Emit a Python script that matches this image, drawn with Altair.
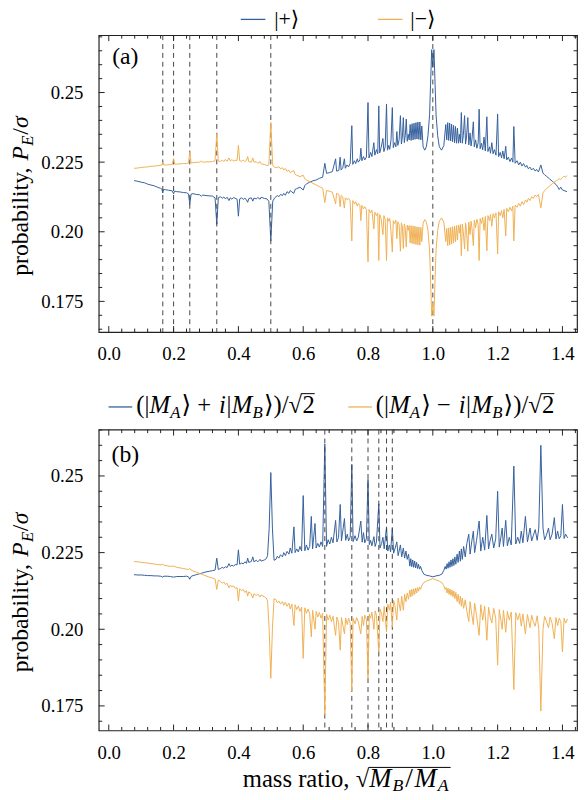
import altair as alt
import pandas as pd

# ---------------- data ----------------
A_PLUS = [
(0.078,0.2184),(0.09,0.2181),(0.10,0.2178),(0.11,0.2176),(0.12,0.2171),(0.13,0.2168),(0.14,0.2165),(0.15,0.2160),(0.16,0.2156),
(0.164,0.2153),(0.1667,0.2139),(0.169,0.2152),(0.175,0.2151),(0.185,0.2149),(0.196,0.2147),(0.2,0.2136),(0.203,0.2146),
(0.21,0.2144),(0.22,0.2143),(0.23,0.2141),(0.24,0.2140),(0.246,0.2136),(0.25,0.2098),(0.254,0.2135),
(0.26,0.2137),(0.27,0.2134),(0.28,0.2133),(0.286,0.2128),(0.29,0.2132),(0.3,0.2130),(0.31,0.2129),(0.32,0.2128),(0.328,0.2122),(0.3333,0.2027),(0.338,0.2122),
(0.345,0.2126),(0.35,0.2120),(0.355,0.2125),(0.36,0.2118),(0.365,0.2124),(0.371,0.2112),(0.375,0.2122),(0.38,0.2117),(0.385,0.2123),(0.39,0.2120),(0.396,0.2117),(0.4,0.2056),(0.404,0.2118),
(0.41,0.2122),(0.415,0.2116),(0.42,0.2121),(0.425,0.2114),(0.4286,0.2106),(0.432,0.2119),(0.44,0.2122),(0.4444,0.2110),(0.448,0.2121),(0.455,0.2118),(0.46,0.2123),(0.467,0.2117),(0.47,0.2124),(0.48,0.2120),(0.488,0.2118),(0.494,0.2110),(0.5,0.1967),(0.506,0.2110),(0.512,0.2122),
(0.52,0.2130),(0.525,0.2126),(0.53,0.2134),(0.536,0.2130),(0.54,0.2138),(0.545,0.2131),(0.55,0.2144),(0.556,0.2138),(0.56,0.2148),(0.565,0.2143),(0.571,0.2138),(0.575,0.2152),(0.58,0.2155),(0.59,0.2160),(0.6,0.2150),(0.605,0.2166),(0.61,0.2172),(0.62,0.2178),(0.63,0.2183),(0.64,0.2186),(0.65,0.2192),(0.66,0.2196),(0.6667,0.2246),(0.672,0.2210),(0.68,0.2212),
(0.69,0.2216),(0.7,0.2262),(0.703,0.2218),(0.71,0.2220),(0.714,0.2268),(0.717,0.2222),(0.722,0.2230),(0.727,0.2262),(0.73,0.2228),(0.735,0.2240),(0.74,0.2233),(0.745,0.2246),(0.75,0.2381),(0.753,0.2242),(0.758,0.2255),(0.762,0.2245),(0.767,0.2262),(0.77,0.2250),(0.775,0.2258),(0.778,0.2300),(0.781,0.2255),(0.786,0.2270),(0.79,0.2258),(0.795,0.2268),(0.8,0.2464),(0.803,0.2265),(0.808,0.2285),(0.812,0.2270),(0.818,0.2320),(0.821,0.2275),(0.826,0.2295),(0.83,0.2280),(0.8333,0.2452),(0.836,0.2283),(0.84,0.2300),(0.846,0.2335),(0.849,0.2288),(0.853,0.2305),(0.8571,0.2459),(0.86,0.2293),(0.864,0.2310),(0.867,0.2296),(0.871,0.2330),(0.875,0.2446),(0.878,0.2302),(0.882,0.2320),(0.886,0.2305),(0.889,0.2360),(0.892,0.2310),(0.896,0.2330),(0.9,0.2417),(0.903,0.2315),(0.906,0.2340),(0.909,0.2410),(0.912,0.2320),(0.915,0.2345),(0.918,0.2405),(0.921,0.2325),(0.924,0.2350),(0.927,0.2330),(0.93,0.2385),
(0.933,0.2328),(0.936,0.2388),(0.939,0.2330),(0.942,0.2390),(0.945,0.2332),(0.948,0.2392),(0.951,0.2333),(0.954,0.2394),(0.957,0.2332),(0.96,0.2394),(0.963,0.2330),(0.966,0.2380),
(0.97,0.2305),(0.975,0.2293),(0.98,0.2305),(0.985,0.2345),(0.99,0.2420),(0.993,0.2530),(0.9965,0.2654),(1.0,0.2590),(1.0035,0.2654),(1.007,0.2530),(1.01,0.2420),(1.015,0.2345),(1.02,0.2305),(1.027,0.2293),(1.034,0.2310),(1.04,0.2385),
(1.043,0.2330),(1.046,0.2392),(1.049,0.2328),(1.052,0.2390),(1.055,0.2326),(1.058,0.2386),(1.061,0.2324),(1.064,0.2382),(1.067,0.2320),(1.07,0.2378),(1.073,0.2318),(1.076,0.2372),(1.079,0.2318),(1.082,0.2350),(1.085,0.2320),(1.088,0.2428),(1.091,0.2318),(1.094,0.2345),(1.098,0.2417),(1.101,0.2315),(1.104,0.2340),(1.108,0.2410),(1.111,0.2312),(1.115,0.2355),(1.118,0.2308),(1.121,0.2335),(1.125,0.2395),(1.128,0.2305),(1.132,0.2330),(1.136,0.2300),(1.14,0.2320),(1.1429,0.2440),(1.146,0.2298),(1.15,0.2318),(1.154,0.2294),(1.158,0.2340),(1.162,0.2290),(1.1667,0.2413),(1.17,0.2288),(1.175,0.2305),(1.178,0.2282),(1.182,0.2320),(1.186,0.2280),(1.19,0.2295),(1.195,0.2275),(1.2,0.2423),(1.203,0.2270),(1.208,0.2285),(1.212,0.2265),(1.216,0.2290),(1.22,0.2262),(1.225,0.2307),(1.228,0.2258),(1.233,0.2268),(1.238,0.2252),(1.243,0.2265),(1.247,0.2250),(1.25,0.2378),(1.254,0.2246),(1.26,0.2255),(1.265,0.2240),(1.27,0.2250),(1.275,0.2236),(1.28,0.2245),(1.286,0.2232),(1.29,0.2238),(1.295,0.2226),(1.3,0.2232),(1.305,0.2222),(1.31,0.2228),(1.316,0.2218),(1.32,0.2224),(1.326,0.2215),(1.3333,0.2240),(1.34,0.2210),(1.345,0.2205),(1.35,0.2200),(1.36,0.2190),(1.37,0.2180),(1.38,0.2170),(1.385,0.2162),(1.39,0.2152),(1.395,0.2160),(1.4,0.2150),(1.405,0.2148),(1.414,0.2144),
]

A_MINUS = [
(0.078,0.2228),(0.09,0.2229),(0.1,0.2231),(0.11,0.2232),(0.12,0.2233),(0.13,0.2235),(0.14,0.2236),(0.15,0.2237),(0.16,0.2239),(0.164,0.2239),(0.1667,0.2250),(0.169,0.2240),(0.18,0.2240),(0.19,0.2241),(0.196,0.2242),(0.2,0.2263),(0.203,0.2243),(0.21,0.2243),(0.22,0.2244),(0.23,0.2245),(0.24,0.2245),(0.246,0.2247),(0.25,0.2287),(0.254,0.2247),(0.26,0.2248),(0.27,0.2249),(0.28,0.2250),(0.286,0.2254),(0.29,0.2250),(0.3,0.2251),(0.31,0.2251),(0.32,0.2252),(0.328,0.2255),(0.3333,0.2352),(0.338,0.2254),(0.345,0.2252),(0.35,0.2258),(0.355,0.2252),(0.36,0.2260),(0.365,0.2253),(0.371,0.2265),(0.375,0.2254),(0.38,0.2259),(0.385,0.2254),(0.39,0.2257),(0.396,0.2256),(0.4,0.2310),(0.404,0.2255),(0.41,0.2253),(0.415,0.2258),(0.42,0.2252),(0.425,0.2257),(0.4286,0.2270),(0.432,0.2252),(0.44,0.2250),(0.4444,0.2265),(0.448,0.2250),(0.455,0.2252),(0.46,0.2246),(0.467,0.2252),(0.47,0.2244),(0.48,0.2242),(0.488,0.2238),(0.494,0.2240),(0.5,0.2393),(0.506,0.2238),(0.512,0.2232),(0.52,0.2230),(0.525,0.2234),(0.53,0.2226),(0.536,0.2230),(0.54,0.2222),(0.545,0.2227),(0.55,0.2217),(0.556,0.2221),(0.56,0.2212),(0.565,0.2216),(0.571,0.2220),(0.575,0.2206),(0.58,0.2203),(0.59,0.2198),(0.6,0.2203),(0.605,0.2190),(0.61,0.2186),(0.62,0.2180),(0.63,0.2174),(0.64,0.2168),(0.65,0.2162),(0.66,0.2156),(0.6667,0.2105),(0.672,0.2148),(0.68,0.2146),(0.69,0.2142),(0.7,0.2100),(0.703,0.2138),(0.71,0.2134),(0.714,0.2090),(0.717,0.2130),(0.722,0.2125),(0.727,0.2085),(0.73,0.2122),(0.735,0.2115),(0.74,0.2120),(0.745,0.2110),(0.75,0.1967),(0.753,0.2112),(0.758,0.2100),(0.762,0.2108),(0.767,0.2092),(0.77,0.2102),(0.775,0.2094),(0.778,0.2040),(0.781,0.2095),(0.786,0.2082),(0.79,0.2090),(0.795,0.2080),(0.8,0.1892),(0.803,0.2080),(0.808,0.2068),(0.812,0.2078),(0.818,0.2010),(0.821,0.2070),(0.826,0.2058),(0.83,0.2068),(0.8333,0.1897),(0.836,0.2062),(0.84,0.2050),(0.846,0.1990),(0.849,0.2058),(0.853,0.2044),(0.8571,0.1897),(0.86,0.2050),(0.864,0.2038),(0.867,0.2048),(0.871,0.2000),(0.875,0.1927),(0.878,0.2040),(0.882,0.2030),(0.886,0.2042),(0.889,0.1975),(0.892,0.2036),(0.896,0.2025),(0.9,0.1930),(0.903,0.2032),(0.906,0.2018),(0.909,0.1940),(0.912,0.2028),(0.915,0.2012),(0.918,0.1945),(0.921,0.2024),(0.924,0.2005),(0.927,0.2022),(0.93,0.1960),
(0.933,0.2022),(0.936,0.1958),(0.939,0.2021),(0.942,0.1956),(0.945,0.2020),(0.948,0.1954),(0.951,0.2018),(0.954,0.1953),(0.957,0.2017),(0.96,0.1952),(0.963,0.2016),(0.966,0.1965),
(0.97,0.2030),(0.975,0.2044),(0.98,0.2035),(0.985,0.2005),(0.99,0.1935),(0.993,0.1830),(0.9965,0.1697),(1.0,0.1745),(1.0035,0.1697),(1.007,0.1830),(1.01,0.1935),(1.015,0.2005),(1.02,0.2038),(1.027,0.2050),(1.034,0.2035),(1.04,0.1965),
(1.043,0.2012),(1.046,0.1950),(1.049,0.2014),(1.052,0.1953),(1.055,0.2016),(1.058,0.1956),(1.061,0.2018),(1.064,0.1960),(1.067,0.2020),(1.07,0.1964),(1.073,0.2022),(1.076,0.1970),(1.079,0.2024),(1.082,0.1995),(1.085,0.2026),(1.088,0.1914),(1.091,0.2028),(1.094,0.2000),(1.098,0.1938),(1.101,0.2032),(1.104,0.2005),(1.108,0.1930),(1.111,0.2035),(1.115,0.1990),(1.118,0.2038),(1.121,0.2010),(1.125,0.1950),(1.128,0.2042),(1.132,0.2015),(1.136,0.2045),(1.14,0.2025),(1.1429,0.1897),(1.146,0.2048),(1.15,0.2030),(1.154,0.2052),(1.158,0.2005),(1.162,0.2055),(1.1667,0.1932),(1.17,0.2058),(1.175,0.2040),(1.178,0.2062),(1.182,0.2020),(1.186,0.2065),(1.19,0.2050),(1.195,0.2068),(1.2,0.1920),(1.203,0.2072),(1.208,0.2058),(1.212,0.2076),(1.216,0.2050),(1.22,0.2080),(1.225,0.1985),(1.228,0.2084),(1.233,0.2072),(1.238,0.2088),(1.243,0.2075),(1.247,0.2092),(1.25,0.1967),(1.254,0.2096),(1.26,0.2088),(1.265,0.2102),(1.27,0.2092),(1.275,0.2108),(1.28,0.2098),(1.286,0.2114),(1.29,0.2106),(1.295,0.2120),(1.3,0.2112),(1.305,0.2126),(1.31,0.2120),(1.316,0.2132),(1.32,0.2126),(1.326,0.2134),(1.3333,0.2086),(1.34,0.2140),(1.345,0.2148),(1.35,0.2154),(1.36,0.2164),(1.37,0.2174),(1.38,0.2182),(1.385,0.2186),(1.39,0.2190),(1.395,0.2188),(1.4,0.2194),(1.405,0.2200),(1.41,0.2196),(1.414,0.2202),
]

B_PLUS = [
(0.078,0.2178),(0.09,0.2177),(0.1,0.2177),(0.11,0.2176),(0.12,0.2175),(0.13,0.2175),(0.14,0.2174),(0.15,0.2174),(0.16,0.2173),(0.1667,0.2170),(0.17,0.2173),(0.18,0.2173),(0.19,0.2172),(0.2,0.2170),(0.21,0.2172),(0.22,0.2172),(0.23,0.2172),(0.24,0.2173),(0.246,0.2171),(0.25,0.2163),(0.254,0.2172),(0.26,0.2175),(0.27,0.2178),(0.28,0.2181),(0.29,0.2184),(0.3,0.2187),(0.31,0.2189),(0.32,0.2191),(0.328,0.2193),(0.3333,0.2232),(0.338,0.2195),(0.345,0.2198),(0.35,0.2202),(0.355,0.2199),(0.36,0.2204),(0.365,0.2201),(0.371,0.2214),(0.375,0.2205),(0.38,0.2209),(0.385,0.2206),(0.39,0.2211),(0.396,0.2210),(0.4,0.2259),(0.404,0.2212),(0.41,0.2216),(0.415,0.2213),(0.42,0.2220),(0.425,0.2215),(0.4286,0.2232),(0.432,0.2218),(0.44,0.2221),(0.4444,0.2236),(0.448,0.2220),(0.455,0.2225),(0.46,0.2220),(0.467,0.2228),(0.47,0.2222),(0.48,0.2226),(0.486,0.2230),(0.49,0.2240),(0.495,0.2330),(0.5,0.2511),(0.505,0.2330),(0.51,0.2225),(0.516,0.2228),(0.52,0.2238),(0.525,0.2232),(0.53,0.2243),(0.536,0.2236),(0.54,0.2250),(0.545,0.2240),(0.55,0.2254),(0.556,0.2245),(0.56,0.2265),(0.565,0.2248),(0.5714,0.2334),(0.575,0.2250),(0.58,0.2262),(0.585,0.2252),(0.59,0.2270),(0.595,0.2255),(0.6,0.2436),(0.605,0.2256),(0.61,0.2275),(0.615,0.2258),(0.62,0.2270),(0.625,0.2368),(0.629,0.2262),(0.6364,0.2345),(0.64,0.2265),(0.645,0.2280),(0.65,0.2268),(0.655,0.2285),(0.66,0.2270),(0.6667,0.2604),(0.672,0.2270),(0.677,0.2292),(0.682,0.2278),(0.687,0.2300),(0.692,0.2282),(0.7,0.2355),(0.704,0.2285),(0.709,0.2300),(0.7143,0.2407),(0.718,0.2288),(0.7273,0.2361),(0.731,0.2290),(0.736,0.2310),(0.74,0.2288),(0.745,0.2300),(0.75,0.2538),(0.754,0.2286),(0.76,0.2305),(0.765,0.2288),(0.77,0.2300),(0.7778,0.2353),(0.782,0.2284),(0.786,0.2315),(0.79,0.2282),(0.795,0.2295),(0.8,0.2489),(0.804,0.2276),(0.808,0.2290),(0.812,0.2272),(0.8182,0.2302),(0.822,0.2270),(0.826,0.2285),(0.8333,0.2409),(0.837,0.2265),(0.842,0.2280),(0.846,0.2300),(0.85,0.2262),(0.8571,0.2334),(0.861,0.2255),(0.866,0.2275),(0.8696,0.2252),(0.875,0.2329),(0.879,0.2248),(0.883,0.2262),(0.8889,0.2285),(0.893,0.2240),(0.9,0.2275),(0.904,0.2236),(0.909,0.2265),(0.913,0.2232),(0.917,0.2255),(0.921,0.2228),(0.925,0.2245),
(0.929,0.2206),(0.932,0.2230),(0.935,0.2204),(0.938,0.2226),(0.941,0.2202),(0.944,0.2222),(0.947,0.2200),(0.95,0.2218),(0.953,0.2198),(0.956,0.2212),(0.959,0.2196),(0.962,0.2205),
(0.966,0.2192),(0.972,0.2180),(0.98,0.2176),(0.99,0.2174),(1.0,0.2171),(1.01,0.2174),(1.02,0.2176),(1.028,0.2180),(1.034,0.2192),(1.038,0.2205),
(1.041,0.2196),(1.044,0.2214),(1.047,0.2199),(1.05,0.2220),(1.053,0.2202),(1.056,0.2226),(1.059,0.2205),(1.062,0.2230),(1.065,0.2208),(1.068,0.2236),(1.071,0.2212),(1.075,0.2245),(1.078,0.2218),(1.082,0.2255),(1.085,0.2222),(1.088,0.2262),(1.091,0.2228),(1.095,0.2270),(1.1,0.2236),(1.105,0.2280),(1.111,0.2310),(1.115,0.2245),(1.12,0.2285),(1.125,0.2320),(1.129,0.2250),(1.135,0.2290),(1.1429,0.2353),(1.148,0.2255),(1.154,0.2300),(1.16,0.2258),(1.1667,0.2371),(1.172,0.2262),(1.177,0.2290),(1.182,0.2310),(1.188,0.2265),(1.194,0.2295),(1.2,0.2450),(1.205,0.2268),(1.21,0.2300),(1.214,0.2330),(1.218,0.2270),(1.225,0.2355),(1.23,0.2272),(1.236,0.2300),(1.242,0.2275),(1.25,0.2532),(1.256,0.2278),(1.262,0.2300),(1.268,0.2280),(1.273,0.2320),(1.278,0.2282),(1.2857,0.2368),(1.292,0.2285),(1.3,0.2330),(1.305,0.2288),(1.31,0.2305),(1.316,0.2325),(1.322,0.2290),(1.327,0.2330),(1.3333,0.2600),(1.34,0.2330),(1.345,0.2292),(1.35,0.2305),(1.357,0.2330),(1.362,0.2292),(1.368,0.2310),(1.375,0.2364),(1.38,0.2294),(1.385,0.2320),(1.39,0.2295),(1.395,0.2305),(1.4,0.2407),(1.405,0.2296),(1.41,0.2310),(1.416,0.2298),
]

B_MINUS = [
(0.078,0.2221),(0.09,0.2220),(0.1,0.2218),(0.11,0.2217),(0.12,0.2216),(0.13,0.2214),(0.14,0.2213),(0.15,0.2211),(0.16,0.2210),(0.1667,0.2212),(0.17,0.2209),(0.18,0.2207),(0.19,0.2205),(0.2,0.2206),(0.21,0.2202),(0.22,0.2200),(0.23,0.2198),(0.24,0.2196),(0.246,0.2195),(0.25,0.2198),(0.254,0.2193),(0.26,0.2190),(0.27,0.2186),(0.28,0.2182),(0.29,0.2178),(0.3,0.2174),(0.31,0.2170),(0.32,0.2167),(0.328,0.2164),(0.3333,0.2130),(0.338,0.2160),(0.345,0.2156),(0.35,0.2150),(0.355,0.2154),(0.36,0.2146),(0.365,0.2150),(0.371,0.2135),(0.375,0.2144),(0.38,0.2138),(0.385,0.2142),(0.39,0.2134),(0.396,0.2135),(0.4,0.2092),(0.404,0.2132),(0.41,0.2126),(0.415,0.2130),(0.42,0.2120),(0.425,0.2126),(0.4286,0.2108),(0.432,0.2122),(0.44,0.2115),(0.4444,0.2102),(0.448,0.2116),(0.455,0.2110),(0.46,0.2115),(0.467,0.2105),(0.47,0.2112),(0.48,0.2106),(0.486,0.2102),(0.49,0.2092),(0.495,0.2000),(0.5,0.1840),(0.505,0.2000),(0.51,0.2100),(0.516,0.2096),(0.52,0.2086),(0.525,0.2092),(0.53,0.2082),(0.536,0.2090),(0.54,0.2078),(0.545,0.2088),(0.55,0.2075),(0.556,0.2085),(0.56,0.2066),(0.565,0.2082),(0.5714,0.2012),(0.575,0.2080),(0.58,0.2064),(0.585,0.2076),(0.59,0.2058),(0.595,0.2072),(0.6,0.1905),(0.605,0.2070),(0.61,0.2052),(0.615,0.2066),(0.62,0.2050),(0.625,0.1975),(0.629,0.2062),(0.6364,0.2000),(0.64,0.2058),(0.645,0.2040),(0.65,0.2055),(0.655,0.2036),(0.66,0.2052),(0.6667,0.1722),(0.672,0.2050),(0.677,0.2030),(0.682,0.2046),(0.687,0.2025),(0.692,0.2042),(0.7,0.1980),(0.704,0.2040),(0.709,0.2022),(0.7143,0.1932),(0.718,0.2038),(0.7273,0.1985),(0.731,0.2036),(0.736,0.2015),(0.74,0.2036),(0.745,0.2020),(0.75,0.1798),(0.754,0.2036),(0.76,0.2018),(0.765,0.2038),(0.77,0.2024),(0.7778,0.1985),(0.782,0.2042),(0.786,0.2012),(0.79,0.2046),(0.795,0.2032),(0.8,0.1840),(0.804,0.2050),(0.808,0.2036),(0.812,0.2056),(0.8182,0.2000),(0.822,0.2060),(0.826,0.2045),(0.8333,0.1926),(0.837,0.2066),(0.842,0.2050),(0.846,0.2025),(0.85,0.2074),(0.8571,0.1991),(0.861,0.2082),(0.866,0.2062),(0.8696,0.2088),(0.875,0.2007),(0.879,0.2094),(0.883,0.2078),(0.8889,0.2030),(0.893,0.2102),(0.9,0.2060),(0.904,0.2108),(0.909,0.2062),(0.913,0.2114),(0.917,0.2090),(0.921,0.2118),(0.925,0.2098),
(0.929,0.2128),(0.932,0.2105),(0.935,0.2130),(0.938,0.2110),(0.941,0.2132),(0.944,0.2114),(0.947,0.2134),(0.95,0.2118),(0.953,0.2136),(0.956,0.2124),(0.959,0.2138),(0.962,0.2130),
(0.966,0.2142),(0.972,0.2152),(0.98,0.2157),(0.99,0.2161),(1.0,0.2165),(1.01,0.2161),(1.02,0.2157),(1.028,0.2152),(1.034,0.2142),(1.038,0.2130),
(1.041,0.2136),(1.044,0.2118),(1.047,0.2134),(1.05,0.2114),(1.053,0.2131),(1.056,0.2110),(1.059,0.2128),(1.062,0.2106),(1.065,0.2125),(1.068,0.2100),(1.071,0.2120),(1.075,0.2090),(1.078,0.2114),(1.082,0.2082),(1.085,0.2108),(1.088,0.2075),(1.091,0.2102),(1.095,0.2068),(1.1,0.2096),(1.105,0.2060),(1.111,0.2025),(1.115,0.2090),(1.12,0.2050),(1.125,0.2015),(1.129,0.2085),(1.135,0.2045),(1.1429,0.1980),(1.148,0.2080),(1.154,0.2030),(1.16,0.2075),(1.1667,0.1964),(1.172,0.2072),(1.177,0.2040),(1.182,0.2020),(1.188,0.2068),(1.194,0.2035),(1.2,0.1883),(1.205,0.2064),(1.21,0.2030),(1.214,0.2000),(1.218,0.2062),(1.225,0.1990),(1.23,0.2058),(1.236,0.2030),(1.242,0.2056),(1.25,0.1803),(1.256,0.2054),(1.262,0.2030),(1.268,0.2052),(1.273,0.2010),(1.278,0.2050),(1.2857,0.1985),(1.292,0.2048),(1.3,0.2005),(1.305,0.2046),(1.31,0.2025),(1.316,0.2010),(1.322,0.2044),(1.327,0.2000),(1.3333,0.1733),(1.34,0.2000),(1.345,0.2042),(1.35,0.2028),(1.357,0.2005),(1.362,0.2040),(1.368,0.2020),(1.375,0.1969),(1.38,0.2038),(1.385,0.2012),(1.39,0.2036),(1.395,0.2025),(1.4,0.1926),(1.405,0.2036),(1.41,0.2020),(1.416,0.2034),
]

A_DASH = [1/6, 1/5, 1/4, 1/3, 1/2, 1.0]
B_DASH = [2/3, 3/4, 4/5, 5/6, 6/7, 7/8]

X_MAJOR = [0.0, 0.2, 0.4, 0.6, 0.8, 1.0, 1.2, 1.4]
X_MINOR = [0.04, 0.08, 0.12, 0.16, 0.24, 0.28, 0.32, 0.36, 0.44, 0.48, 0.52, 0.56,
           0.64, 0.68, 0.72, 0.76, 0.84, 0.88, 0.92, 0.96, 1.04, 1.08, 1.12, 1.16,
           1.24, 1.28, 1.32, 1.36, 1.44]
Y_MAJOR = [0.175, 0.2, 0.225, 0.25]
Y_MINOR = [0.165, 0.17, 0.18, 0.185, 0.19, 0.195, 0.205, 0.21, 0.215, 0.22,
           0.23, 0.235, 0.24, 0.245, 0.255, 0.26, 0.265, 0.27]

# ---------------- layout / style ----------------
W = 485
HA, HB = 301, 305
XDOM = [-0.031, 1.445]
YDOM_A = [0.164, 0.2706]
YDOM_B = [0.167, 0.2651]
BLUE = "#34609c"
ORANGE = "#f0b052"
FONT = "Liberation Serif, Tinos, Times New Roman, DejaVu Serif, serif"
FRAME = "#222222"
ONE = alt.Data(values=[{"k": 0}])


def txt(s, x, y, size=23, italic=False, dx=0, dy=0, angle=0, align="left",
        baseline="alphabetic"):
    kw = dict(text=s, font=FONT, fontSize=size, align=align, baseline=baseline,
              color="black", dx=dx, dy=dy)
    if italic:
        kw["fontStyle"] = "italic"
    if angle:
        kw["angle"] = angle
    return alt.Chart(ONE).mark_text(**kw).encode(x=alt.value(x), y=alt.value(y))


def seq(pieces, x, y, angle=0, size=23, sub=16, subdy=5):
    """pieces: (text, advance, italic, kind) with kind 'n' normal, 's' subscript,
    or a number = explicit font size."""
    out = []
    off = 0
    for s, w, italic, kind in pieces:
        if kind == "s":
            fs, dy = sub, subdy
        elif kind == "n":
            fs, dy = size, 0
        else:
            fs, dy = kind, 0
        out.append(txt(s, x, y, size=fs, italic=italic, dx=off, dy=dy, angle=angle))
        off += w
    return out


def hline(x1, x2, y, color, width=1.3):
    return alt.Chart(ONE).mark_rule(color=color, strokeWidth=width).encode(
        x=alt.value(x1), x2=alt.value(x2), y=alt.value(y))


def panel(plus, minus, dashes, ydom, H, tag, tag_y, legend_layers):
    xs = alt.Scale(domain=XDOM, nice=False, zero=False)
    ys = alt.Scale(domain=ydom, nice=False, zero=False)
    xaxis = alt.Axis(values=X_MAJOR, format=".1f", labelFont=FONT, labelFontSize=19,
                     labelColor="black", ticks=False, domain=False, grid=False,
                     labelPadding=13, title=None)
    yaxis = alt.Axis(values=Y_MAJOR, labelFont=FONT, labelFontSize=19, labelColor="black",
                     ticks=False, domain=False, grid=False, labelPadding=16, title=None,
                     labelExpr="datum.value == 0.2 ? '0.20' : datum.value == 0.25 ? '0.25' : format(datum.value, '.3f')")

    def X(f):
        return alt.X(f, scale=xs, axis=xaxis)

    def Y(f):
        return alt.Y(f, scale=ys, axis=yaxis)

    dfp = pd.DataFrame(plus, columns=["x", "y"])
    dfm = pd.DataFrame(minus, columns=["x", "y"])
    dfd = pd.DataFrame({"x": dashes})

    dash = alt.Chart(dfd).mark_rule(color="#444444", strokeWidth=1, strokeDash=[5, 4]).encode(
        x=X("x:Q"))
    lm = alt.Chart(dfm).mark_line(color=ORANGE, strokeWidth=1).encode(x=X("x:Q"), y=Y("y:Q"))
    lp = alt.Chart(dfp).mark_line(color=BLUE, strokeWidth=1).encode(x=X("x:Q"), y=Y("y:Q"))

    ymin = [v for v in Y_MINOR if ydom[0] < v < ydom[1]]
    tx_maj = pd.DataFrame({"x": X_MAJOR})
    tx_min = pd.DataFrame({"x": X_MINOR})
    ty_maj = pd.DataFrame({"y": Y_MAJOR})
    ty_min = pd.DataFrame({"y": ymin})

    def xt(df, L):
        b = alt.Chart(df).mark_rule(color=FRAME, strokeWidth=1).encode(
            x=X("x:Q"), y=alt.value(H), y2=alt.value(H - L))
        t = alt.Chart(df).mark_rule(color=FRAME, strokeWidth=1).encode(
            x=X("x:Q"), y=alt.value(0), y2=alt.value(L))
        return [b, t]

    def yt(df, L):
        l = alt.Chart(df).mark_rule(color=FRAME, strokeWidth=1).encode(
            y=Y("y:Q"), x=alt.value(0), x2=alt.value(L))
        r = alt.Chart(df).mark_rule(color=FRAME, strokeWidth=1).encode(
            y=Y("y:Q"), x=alt.value(W), x2=alt.value(W - L))
        return [l, r]

    ticks = xt(tx_maj, 6) + xt(tx_min, 3.5) + yt(ty_maj, 6) + yt(ty_min, 3.5)

    ytitle = seq([("probability, ", 117, False, "n"), ("P", 15, True, "n"),
                  ("E", 11, True, "s"), ("/", 7, False, "n"), ("σ", 13, True, "n")],
                 -72, 244 + (H - 301) // 2, angle=270, size=24, sub=17, subdy=5)

    label = txt(tag, 27, tag_y, size=24, align="center", baseline="middle")

    layers = [lp, dash, lm] + ticks + ytitle + [label] + legend_layers
    return alt.layer(*layers).properties(width=W, height=H)


LEG_A_Y = -16
legA = [
    hline(144, 169, LEG_A_Y, BLUE), txt("|+⟩", 178, LEG_A_Y, size=22, baseline="middle"),
    hline(283, 308, LEG_A_Y, ORANGE), txt("|−⟩", 316, LEG_A_Y, size=22, baseline="middle"),
]

KET_W = [13.5, 21, 11.5, 38, 7.5, 5.5, 21, 11.5, 39, 12.5]


def ket_label(sign, x0, base):
    texts = ["(|", "M", "A", "⟩ " + sign + " ", "i", "|", "M", "B", "⟩)/√", "2"]
    italic = [False, True, True, False, True, False, True, True, False, False]
    kinds = ["n", "n", "s", "n", "n", "n", "n", "s", "n", "n"]
    pieces = list(zip(texts, KET_W, italic, kinds))
    layers = seq(pieces, x0, base, size=25, sub=17)
    start2 = x0 + sum(KET_W[:-1])
    layers.append(hline(start2 - 1, start2 + KET_W[-1], base - 19.5, "black", 1))
    return layers


legB = ([hline(10, 34, -23, BLUE)] + ket_label("+", 38, -17) +
        [hline(253, 277, -23, ORANGE)] + ket_label("−", 281, -17))

XT_X, XT_Y = 146, HB + 57
XT_W = [114.6, 13.7, 23.5, 13, 9.5, 23.5, 12]
xtitle = seq([("mass ratio, ", XT_W[0], False, "n"), ("√", XT_W[1], False, "n"),
              ("M", XT_W[2], True, 27), ("B", XT_W[3], True, "s"), ("/", XT_W[4], False, 28),
              ("M", XT_W[5], True, 27), ("A", XT_W[6], True, "s")],
             XT_X, XT_Y, size=25, sub=18, subdy=4)
overline = hline(XT_X + XT_W[0] + XT_W[1] - 0.5, XT_X + sum(XT_W) + 1, XT_Y - 19.5, "black", 1)

pa = panel(A_PLUS, A_MINUS, A_DASH, YDOM_A, HA, "(a)", 22, legA)
pb = panel(B_PLUS, B_MINUS, B_DASH, YDOM_B, HB, "(b)", 26, legB + xtitle + [overline])

chart = alt.vconcat(pa, pb, spacing=28).properties(
    padding={"left": 0, "top": -6, "right": 0, "bottom": 0}
).configure(background="white").configure_view(stroke=FRAME, strokeWidth=1.2, fill=None)

chart.save("out.html", embed_options={"renderer": "svg", "actions": False})
